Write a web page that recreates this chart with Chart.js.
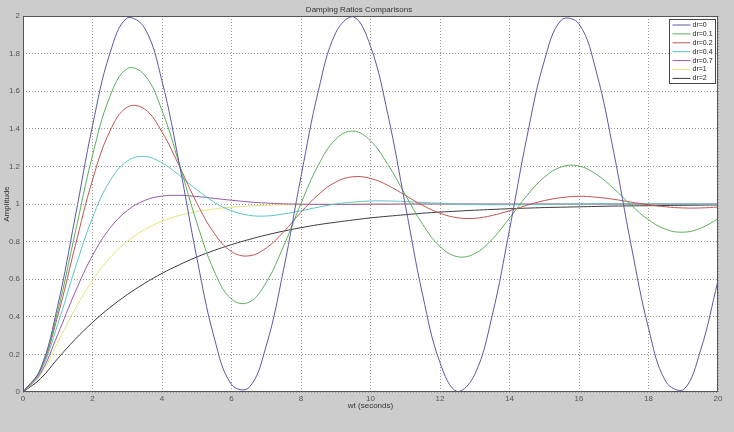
<!DOCTYPE html>
<html>
<head>
<meta charset="utf-8">
<script src="https://cdn.jsdelivr.net/npm/chart.js@4.4.1/dist/chart.umd.min.js"></script>
<style>
  body { margin: 0; background: #cccccc; }
  canvas { display: block; }
</style>
</head>
<body>
<canvas id="chart" width="734" height="432"></canvas>
<script>
// time axis (wt, seconds) and responses
const time = [0, 0.5, 1, 1.5, 2, 2.5, 3, 3.5, 4, 4.5, 5, 5.5, 6, 6.5, 7, 7.5, 8, 8.5, 9, 9.5,
  10, 10.5, 11, 11.5, 12, 12.5, 13, 13.5, 14, 14.5, 15, 15.5, 16, 16.5, 17, 17.5, 18, 18.5, 19, 19.5, 20];

const dr0 = [0, 0.122, 0.460, 0.929, 1.416, 1.801, 1.990, 1.936, 1.654, 1.211, 0.716, 0.291, 0.040, 0.023,
  0.246, 0.653, 1.146, 1.602, 1.911, 1.997, 1.839, 1.476, 0.996, 0.517, 0.156, 0.002, 0.093, 0.405,
  0.863, 1.355, 1.760, 1.980, 1.958, 1.702, 1.275, 0.781, 0.340, 0.055, 0.011, 0.223, 0.592];
const dr01 = [0, 0.118, 0.431, 0.846, 1.258, 1.571, 1.720, 1.686, 1.498, 1.211, 0.902, 0.644, 0.494, 0.477,
  0.583, 0.776, 1.003, 1.207, 1.344, 1.388, 1.336, 1.210, 1.050, 0.892, 0.774, 0.720, 0.736, 0.812,
  0.925, 1.045, 1.142, 1.198, 1.202, 1.158, 1.082, 0.994, 0.916, 0.865, 0.850, 0.871, 0.921];
const dr02 = [0, 0.115, 0.405, 0.775, 1.128, 1.387, 1.515, 1.505, 1.383, 1.201, 1.006, 0.845, 0.747, 0.724,
  0.766, 0.852, 0.956, 1.050, 1.117, 1.145, 1.136, 1.099, 1.046, 0.993, 0.951, 0.927, 0.924, 0.939,
  0.964, 0.993, 1.018, 1.034, 1.041, 1.036, 1.025, 1.010, 0.996, 0.985, 0.979, 0.979, 0.984];
const dr04 = [0, 0.108, 0.360, 0.658, 0.927, 1.122, 1.228, 1.253, 1.219, 1.152, 1.076, 1.010, 0.964, 0.940,
  0.936, 0.947, 0.964, 0.983, 1.000, 1.010, 1.016, 1.016, 1.013, 1.008, 1.004, 1.000, 0.997, 0.996,
  0.996, 0.997, 0.998, 0.999, 1.000, 1.001, 1.001, 1.001, 1.001, 1.000, 1.000, 1.000, 1.000];
const dr07 = [0, 0.098, 0.306, 0.531, 0.726, 0.871, 0.965, 1.019, 1.042, 1.046, 1.040, 1.030, 1.020, 1.011,
  1.005, 1.001, 0.999, 0.998, 0.998, 0.998, 0.999, 0.999, 1.000, 1.000, 1.000, 1.000, 1.000, 1.000,
  1.000, 1.000, 1.000, 1.000, 1.000, 1.000, 1.000, 1.000, 1.000, 1.000, 1.000, 1.000, 1.000];
const dr1 = [0, 0.090, 0.264, 0.442, 0.594, 0.713, 0.801, 0.864, 0.908, 0.939, 0.960, 0.973, 0.983, 0.989,
  0.993, 0.995, 0.997, 0.998, 0.999, 0.999, 1.000, 1.000, 1.000, 1.000, 1.000, 1.000, 1.000, 1.000,
  1.000, 1.000, 1.000, 1.000, 1.000, 1.000, 1.000, 1.000, 1.000, 1.000, 1.000, 1.000, 1.000];
const dr2 = [0, 0.070, 0.178, 0.280, 0.370, 0.449, 0.518, 0.578, 0.631, 0.677, 0.718, 0.753, 0.784, 0.811,
  0.835, 0.856, 0.874, 0.890, 0.903, 0.915, 0.926, 0.935, 0.943, 0.951, 0.957, 0.962, 0.967, 0.971,
  0.975, 0.978, 0.981, 0.983, 0.985, 0.987, 0.989, 0.990, 0.991, 0.992, 0.993, 0.994, 0.995];

const labels = ['dr=0', 'dr=0.1', 'dr=0.2', 'dr=0.4', 'dr=0.7', 'dr=1', 'dr=2'];
const series = [dr0, dr01, dr02, dr04, dr07, dr1, dr2];
const colors = ['#5a5aa6', '#5cb05c', '#c25452', '#5cc6c8', '#9a58a6', '#e4e47a', '#3c3c3c'];

const FONT = 'Liberation Sans, Arial, sans-serif';

// matlab prints 2 and 1, not 2.0 and 1.0
const plainTick = v => String(parseFloat(v.toFixed(2)));

// figure background + white axes box
const frame = {
  id: 'frame',
  beforeDraw(chart) {
    const { ctx, chartArea: a } = chart;
    ctx.save();
    ctx.fillStyle = '#cccccc';
    ctx.fillRect(0, 0, chart.width, chart.height);
    ctx.fillStyle = '#ffffff';
    ctx.fillRect(a.left, a.top, a.right - a.left, a.bottom - a.top);
    ctx.restore();
  },
  afterDraw(chart) {
    const { ctx, chartArea: a } = chart;
    ctx.save();
    ctx.strokeStyle = '#555555';
    ctx.lineWidth = 1;
    ctx.strokeRect(Math.round(a.left) + 0.5, Math.round(a.top) + 0.5,
      Math.round(a.right - a.left) - 1, Math.round(a.bottom - a.top) - 1);
    ctx.restore();
  }
};

// matlab-style legend in the top right corner of the axes
const boxLegend = {
  id: 'boxLegend',
  afterDraw(chart) {
    const { ctx, chartArea: a } = chart;
    const w = 46, h = 64;
    const x = Math.round(a.right) - w - 2.5, y = Math.round(a.top) + 3.5;
    ctx.save();
    ctx.fillStyle = '#ffffff';
    ctx.fillRect(x, y, w, h);
    ctx.strokeStyle = '#444444';
    ctx.lineWidth = 1;
    ctx.strokeRect(x, y, w, h);
    ctx.font = '7px ' + FONT;
    ctx.textBaseline = 'middle';
    chart.data.datasets.forEach((ds, i) => {
      const ry = y + 5.5 + i * 8.9;
      ctx.strokeStyle = ds.borderColor;
      ctx.beginPath();
      ctx.moveTo(x + 3, ry);
      ctx.lineTo(x + 21, ry);
      ctx.stroke();
      ctx.fillStyle = '#222222';
      ctx.fillText(ds.label, x + 23, ry);
    });
    ctx.restore();
  }
};

new Chart(document.getElementById('chart'), {
  type: 'line',
  data: {
    datasets: series.map((vals, i) => ({
      label: labels[i],
      data: vals.map((v, j) => ({ x: time[j], y: v })),
      borderColor: colors[i],
      borderWidth: 1,
      pointRadius: 0,
      tension: 0.4,
      fill: false,
    })),
  },
  options: {
    responsive: false,
    animation: false,
    devicePixelRatio: 1,
    layout: { padding: { left: 0, right: 16, top: 0, bottom: 0 } },
    plugins: {
      legend: { display: false },
      tooltip: { enabled: false },
      title: {
        display: true,
        text: 'Damping Ratios Comparisons',
        color: '#333333',
        font: { family: FONT, size: 8, weight: 'normal', lineHeight: 1 },
        padding: { top: 6, bottom: 2 },
      },
    },
    scales: {
      x: {
        type: 'linear',
        min: 0,
        max: 20,
        afterFit: scale => { scale.height = 40; },
        ticks: { stepSize: 2, color: '#555555', padding: 2, maxRotation: 0,
          callback: plainTick, font: { family: FONT, size: 8 } },
        grid: { color: '#999999', drawTicks: false },
        border: { display: false, dash: [1, 2] },
        title: { display: true, text: 'wt (seconds)', color: '#333333',
          font: { family: FONT, size: 8 }, padding: { top: 0, bottom: 21 } },
      },
      y: {
        min: 0,
        max: 2,
        afterFit: scale => { scale.width = 23; },
        ticks: { stepSize: 0.2, color: '#555555', padding: 3,
          callback: plainTick, font: { family: FONT, size: 8 } },
        grid: { color: '#999999', drawTicks: false },
        border: { display: false, dash: [1, 2] },
        title: { display: true, text: 'Amplitude', color: '#333333',
          font: { family: FONT, size: 8 }, padding: { top: 2, bottom: 0 } },
      },
    },
  },
  plugins: [frame, boxLegend],
});
</script>
</body>
</html>
